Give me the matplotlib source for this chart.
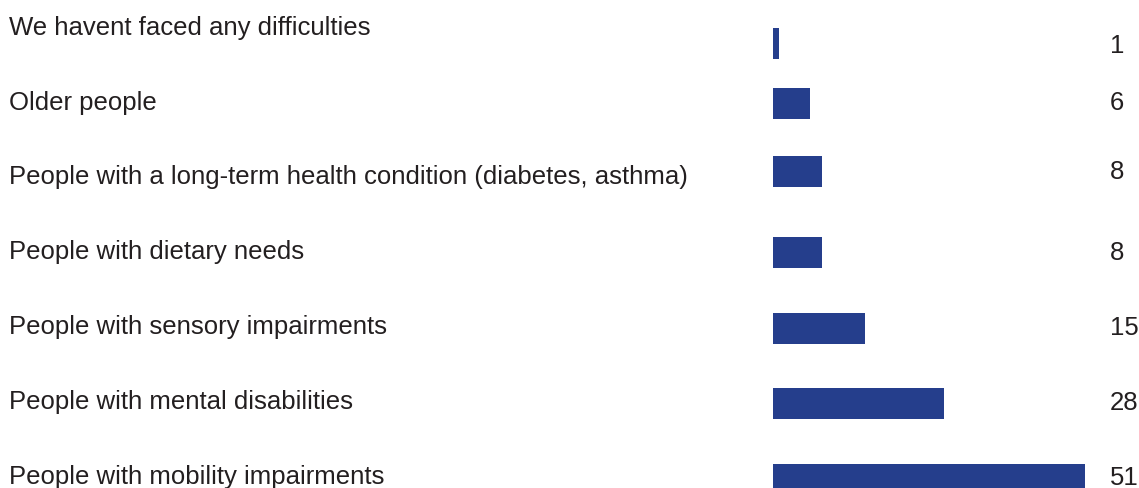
import matplotlib.pyplot as plt
import matplotlib.transforms as mtransforms

plt.rcParams['font.family'] = ['Liberation Sans', 'DejaVu Sans']

categories = [
    "We havent faced any difficulties",
    "Older people",
    "People with a long-term health condition (diabetes, asthma)",
    "People with dietary needs",
    "People with sensory impairments",
    "People with mental disabilities",
    "People with mobility impairments",
]
values = [1, 6, 8, 8, 15, 28, 51]

# row layout in pixels from the top of the figure
bar_y = [43, 103, 171.5, 252, 328.5, 403.5, 479.5]
label_y = [28, 103, 177, 252, 327, 402, 477]
value_y = [46, 103, 172, 253, 328, 403, 478]

W, H = 1139, 488
fig = plt.figure(figsize=(W / 100, H / 100), dpi=100)
ax = fig.add_axes([773 / W, 0, (W - 773) / W, 1])
px_per_unit = 6.12
ax.set_xlim(0, (W - 773) / px_per_unit)
ax.set_ylim(H, 0)
ax.axis('off')

ax.barh(bar_y, values, height=31, color='#253E8C')

txt = '#231F20'
fs = 18.5
lab_tr = mtransforms.blended_transform_factory(fig.transFigure, ax.transData)
for name, y in zip(categories, label_y):
    fig.text(9 / W, y, name, transform=lab_tr, fontsize=fs, color=txt,
             ha='left', va='center')
for v, y in zip(values, value_y):
    fig.text(1110 / W, y, str(v), transform=lab_tr, fontsize=fs, color=txt,
             ha='left', va='center')

fig.savefig('out.png', dpi=100, facecolor='white')
